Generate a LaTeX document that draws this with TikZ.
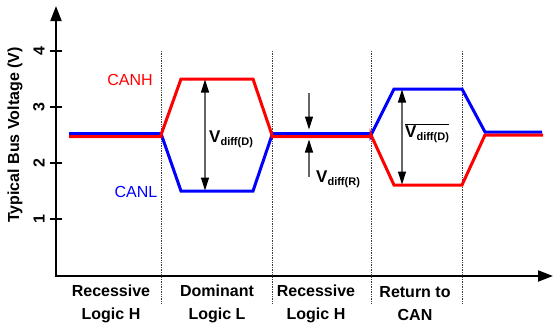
\documentclass[tikz,border=0pt]{standalone}
\usepackage{fontspec}
\setmainfont{Liberation Sans}
\usetikzlibrary{arrows.meta}
\tikzset{
  axisline/.style={line width=2pt, -{Triangle[length=15pt,width=11pt]}},
  tickline/.style={line width=1.6pt},
  divider/.style={densely dotted, line width=0.7pt, black!75},
  canh/.style={red, line width=3pt, line join=miter},
  canl/.style={blue, line width=3pt, line join=miter},
  dimarrow/.style={line width=1.2pt, black!60, {Triangle[length=13pt,width=8pt,color=black]}-{Triangle[length=13pt,width=8pt,color=black]}},
  onearrow/.style={line width=1.2pt, black!60, -{Triangle[length=13pt,width=8pt,color=black]}},
  lab/.style={font=\bfseries\fontsize{16}{23}\selectfont, align=center, inner sep=0pt},
  sig/.style={font=\fontsize{16}{19}\selectfont, inner sep=0pt},
  ticklab/.style={font=\bfseries\fontsize{16}{19}\selectfont, rotate=90, inner sep=0pt},
  vlab/.style={font=\bfseries\fontsize{17}{20}\selectfont, inner sep=0pt}
}
\newcommand{\subdiff}[1]{\raisebox{-3.5pt}{\fontsize{11}{13}\selectfont #1}}
\begin{document}
\begin{tikzpicture}[x=1pt,y=-1pt]
\useasboundingbox (0,0) rectangle (555,325);
% axes
\coordinate (o) at (56,276);
\coordinate (ytop) at (56,6);
\coordinate (xend) at (553,276);
\draw[axisline] (o) -- (ytop);
\draw[axisline] ([xshift=-1pt]o) -- (xend);
% ticks
\foreach \v/\yy in {4/51,3/107,2/163,1/219}{
  \draw[tickline] (50,\yy) -- (62,\yy);
  \node[ticklab] (t\v) at (39,\yy) {\v};
}
\node[lab, rotate=90] (ylab) at (15,135) {Typical Bus Voltage (V)};
% dividers
\foreach \xx/\n in {161/a,272/b,371/c,462/d}{
  \draw[divider] (\xx,51) -- (\xx,303);
}
% signals
\draw[canl] (69,133.5) -- (161,133.5) -- (181,191) -- (253,191) -- (272,135) -- (272,133.5) -- (371,133.5) -- (371,135) -- (394,89) -- (462,89) -- (485,132) -- (542,132);
\draw[canh] (69,136.5) -- (161,136.5) -- (161,135) -- (181,79) -- (253,79) -- (272,135) -- (272,136.5) -- (371,136.5) -- (371,135) -- (394,185) -- (462,185) -- (485,135) -- (543,135);
% signal names
\node[sig, red] (canhl) at (130,80) {CANH};
\node[sig, blue] (canll) at (136,192) {CANL};
% differential arrows
\coordinate (dtop) at (205,79.5);
\coordinate (dbot) at (205,190.5);
\draw[dimarrow] (dtop) -- (dbot);
\node[vlab, anchor=base west] (vdd) at (209,142) {V\subdiff{diff(D)}};
\coordinate (rtop) at (309,93);
\coordinate (rtip1) at (309,129.5);
\coordinate (rbot) at (309,177);
\coordinate (rtip2) at (309,139.5);
\draw[onearrow] (rtop) -- (rtip1);
\draw[onearrow] (rbot) -- (rtip2);
\node[vlab, anchor=base west] (vdr) at (316,182) {V\subdiff{diff(R)}};
\coordinate (ntop) at (402,89.5);
\coordinate (nbot) at (402,184.5);
\draw[dimarrow] (ntop) -- (nbot);
\node[vlab, anchor=base west] (vdn) at (405,137) {$\overline{\hbox{V\subdiff{diff(D)}}}$};
% bottom labels
\node[lab] (s1) at (111,304) {Recessive\\Logic H};
\node[lab] (s2) at (217,304) {Dominant\\Logic L};
\node[lab] (s3) at (316,304) {Recessive\\Logic H};
\node[lab] (s4) at (415,304) {Return to\\CAN};
\end{tikzpicture}
\end{document}
